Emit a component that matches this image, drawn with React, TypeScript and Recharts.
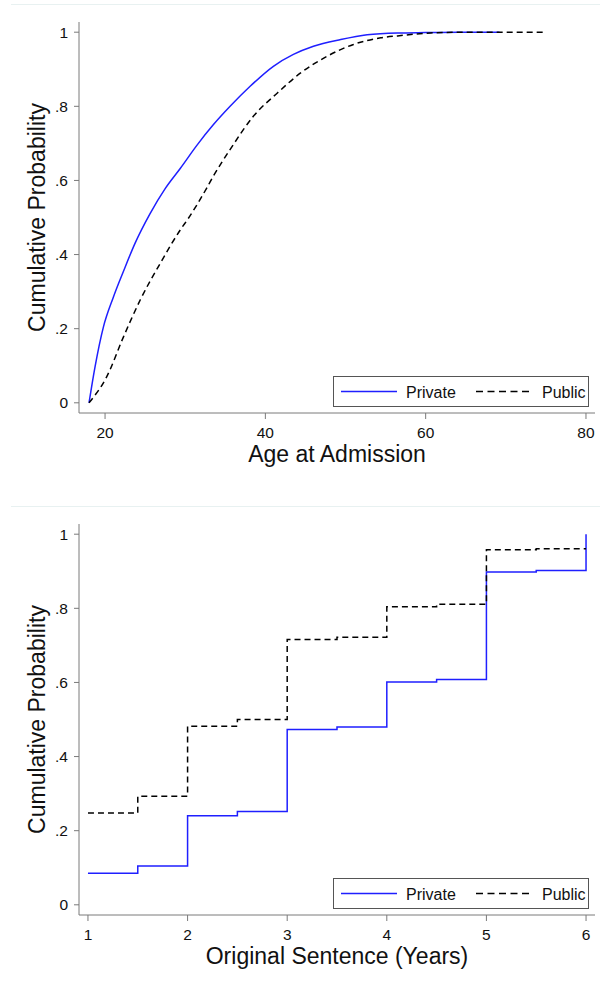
import React from 'react';
import { LineChart, Line, XAxis, YAxis, Label } from 'recharts';

const privateAge = [18, 18.75, 19.8, 21, 22.3, 23.75, 25.6, 27.5, 29.4, 31.5, 33.5, 35.6, 38.1, 41, 43.5, 46, 49.4, 52.7, 56.5, 60, 65, 69.2];
const privateAgeCdf = [0, 0.097, 0.205, 0.283, 0.355, 0.431, 0.51, 0.578, 0.633, 0.696, 0.75, 0.8, 0.854, 0.908, 0.94, 0.962, 0.98, 0.993, 0.998, 0.999, 1, 1];
const publicAge = [18, 20.2, 22.3, 24.4, 26.9, 29.4, 30.4, 32.7, 33.5, 35.8, 38.5, 41.5, 44.4, 47.7, 51, 54.4, 56.5, 60.6, 65, 70, 75];
const publicAgeCdf = [0, 0.07, 0.178, 0.278, 0.377, 0.467, 0.498, 0.58, 0.611, 0.69, 0.773, 0.836, 0.89, 0.935, 0.967, 0.985, 0.99, 0.998, 1, 1, 1];

// Original sentence (years): step CDF
const sentenceYears = [1, 1.5, 2, 2.5, 3, 3.5, 4, 4.5, 5, 5.5, 6];
const privateSentenceCdf = [0.085, 0.105, 0.24, 0.252, 0.473, 0.48, 0.601, 0.608, 0.898, 0.902, 1.0];
const publicSentenceCdf = [0.248, 0.293, 0.482, 0.5, 0.716, 0.722, 0.804, 0.811, 0.958, 0.961, 0.961];

const ageTicks = [20, 40, 60, 80];
const sentenceTicks = [1, 2, 3, 4, 5, 6];
const probTicks = [0, 0.2, 0.4, 0.6, 0.8, 1];

const FONT = '"Liberation Sans", Arial, Helvetica, sans-serif';
const AXIS = '#7a7a7a';
const BLUE = '#1f1fff';

const toRows = (xs: number[], ys: number[]) => xs.map((x, i) => ({ x, p: ys[i] }));

const fmtProb = (v: number) => (v === 0 ? '0' : v === 1 ? '1' : String(v).replace(/^0/, ''));

const LegendBox = () => (
  <svg
    width={257}
    height={32}
    style={{ position: 'absolute', left: 333, top: 376, fontFamily: FONT }}
  >
    <rect x={0.5} y={0.5} width={255} height={30} fill="#fff" stroke="#555" strokeWidth={1} />
    <line x1={8} x2={64} y1={15.5} y2={15.5} stroke={BLUE} strokeWidth={1.5} />
    <text x={73} y={21.5} fontSize={16} fill="#111">Private</text>
    <line x1={143} x2={200} y1={15.5} y2={15.5} stroke="#000" strokeWidth={1.5} strokeDasharray="7 4.5" />
    <text x={209} y={21.5} fontSize={16} fill="#111">Public</text>
  </svg>
);

type PanelProps = {
  top: number;
  privateRows: { x: number; p: number }[];
  publicRows: { x: number; p: number }[];
  xDomain: [number, number];
  xTicks: number[];
  xTitle: string;
  step?: boolean;
};

const Panel = ({ top, privateRows, publicRows, xDomain, xTicks, xTitle, step }: PanelProps) => (
  <div style={{ position: 'absolute', left: 0, top, width: 600, height: 479 }}>
    <div style={{ position: 'absolute', left: 11, top: 4, width: 589, height: 1, background: '#e8f1f1' }} />
    <LineChart width={600} height={479} margin={{ top: 22, right: 5, bottom: 0, left: 0 }}>
      <XAxis
        dataKey="x"
        type="number"
        domain={xDomain}
        ticks={xTicks}
        allowDataOverflow
        height={66}
        stroke={AXIS}
        tickSize={6}
        tickMargin={8}
        tick={{ fill: '#111', fontSize: 15.5, fontFamily: FONT }}
      >
        <Label
          content={({ viewBox }: any) => (
            <text
              x={viewBox.x + viewBox.width / 2}
              y={viewBox.y + 49}
              textAnchor="middle"
              fontSize={23}
              fontFamily={FONT}
              fill="#111"
            >
              {xTitle}
            </text>
          )}
        />
      </XAxis>
      <YAxis
        type="number"
        domain={[-0.0275, 1.0275]}
        ticks={probTicks}
        allowDataOverflow
        width={79}
        stroke={AXIS}
        tickSize={5}
        tickMargin={6}
        tickFormatter={fmtProb}
        tick={{ fill: '#111', fontSize: 15.5, fontFamily: FONT }}
      >
        <Label
          content={({ viewBox }: any) => {
            const cx = 45;
            const cy = viewBox.y + viewBox.height / 2;
            return (
              <text
                x={cx}
                y={cy}
                transform={`rotate(-90 ${cx} ${cy})`}
                textAnchor="middle"
                fontSize={23}
                fontFamily={FONT}
                fill="#111"
              >
                Cumulative Probability
              </text>
            );
          }}
        />
      </YAxis>
      <Line
        data={privateRows}
        dataKey="p"
        type={step ? 'stepAfter' : 'monotone'}
        stroke={BLUE}
        strokeWidth={1.5}
        dot={false}
        isAnimationActive={false}
      />
      <Line
        data={publicRows}
        dataKey="p"
        type={step ? 'stepAfter' : 'monotone'}
        stroke="#000"
        strokeWidth={1.5}
        strokeDasharray="6 4"
        dot={false}
        isAnimationActive={false}
      />
    </LineChart>
    <LegendBox />
  </div>
);

export default function App() {
  return (
    <div style={{ position: 'absolute', left: 0, top: 0, width: 600, height: 981, background: '#fff' }}>
      <Panel
        top={0}
        privateRows={toRows(privateAge, privateAgeCdf)}
        publicRows={toRows(publicAge, publicAgeCdf)}
        xDomain={[16.75, 81.125]}
        xTicks={ageTicks}
        xTitle="Age at Admission"
      />
      <Panel
        top={502}
        privateRows={toRows(sentenceYears, privateSentenceCdf)}
        publicRows={toRows(sentenceYears, publicSentenceCdf)}
        xDomain={[0.91, 6.09]}
        xTicks={sentenceTicks}
        xTitle="Original Sentence (Years)"
        step
      />
    </div>
  );
}
